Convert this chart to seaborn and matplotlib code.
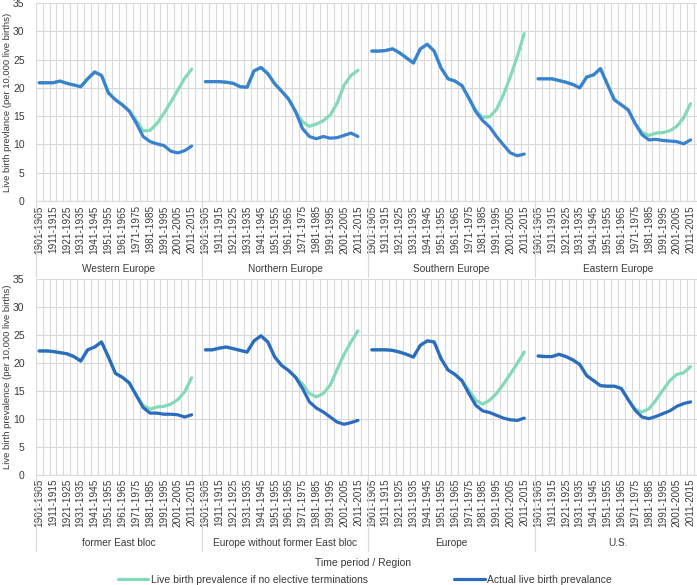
import numpy as np
import pandas as pd
import matplotlib
matplotlib.use("Agg")
import matplotlib.pyplot as plt
import matplotlib.transforms as mtransforms
from matplotlib.lines import Line2D
import seaborn as sns

# 5-year periods, same for every region
periods = ["1901-1905", "1906-1910", "1911-1915", "1916-1920", "1921-1925", "1926-1930",
           "1931-1935", "1936-1940", "1941-1945", "1946-1950", "1951-1955", "1956-1960",
           "1961-1965", "1966-1970", "1971-1975", "1976-1980", "1981-1985", "1986-1990",
           "1991-1995", "1996-2000", "2001-2005", "2006-2010", "2011-2015"]

top_regions = ["Western Europe", "Northern Europe", "Southern Europe", "Eastern Europe"]
bottom_regions = ["former East bloc", "Europe without former East bloc", "Europe", "U.S."]

# actual live birth prevalence (per 10,000 live births)
western_actual = [20.9, 20.9, 20.9, 21.2, 20.8, 20.5, 20.2, 21.6, 22.8, 22.2, 19.1, 17.9,
                  17.0, 15.9, 13.8, 11.4, 10.5, 10.1, 9.8, 8.8, 8.5, 8.9, 9.7]
northern_actual = [21.1, 21.1, 21.1, 21.0, 20.8, 20.2, 20.1, 23.0, 23.6, 22.5, 20.7, 19.4,
                   18.0, 15.8, 12.8, 11.4, 11.0, 11.4, 11.1, 11.2, 11.6, 12.0, 11.4]
southern_actual = [26.5, 26.5, 26.6, 26.9, 26.2, 25.3, 24.4, 26.9, 27.7, 26.5, 23.5, 21.6,
                   21.2, 20.4, 18.2, 15.8, 14.2, 13.1, 11.4, 9.9, 8.5, 8.0, 8.3]
eastern_actual = [21.6, 21.6, 21.6, 21.3, 21.0, 20.6, 20.0, 21.9, 22.3, 23.4, 20.6, 17.9,
                  17.0, 16.1, 13.7, 11.7, 10.8, 10.9, 10.7, 10.6, 10.5, 10.1, 10.8]
eastbloc_actual = [22.1, 22.1, 22.0, 21.8, 21.6, 21.1, 20.3, 22.3, 22.8, 23.7, 21.0, 18.1,
                   17.4, 16.4, 14.2, 12.0, 11.0, 11.0, 10.8, 10.8, 10.7, 10.3, 10.7]
noneast_actual = [22.3, 22.3, 22.6, 22.8, 22.5, 22.2, 21.9, 23.9, 24.8, 23.7, 21.0, 19.5,
                  18.6, 17.4, 15.4, 13.0, 11.9, 11.2, 10.3, 9.4, 9.0, 9.3, 9.7]
europe_actual = [22.3, 22.3, 22.3, 22.2, 21.9, 21.5, 21.0, 23.1, 23.9, 23.7, 20.7, 18.7,
                 17.9, 16.8, 14.5, 12.4, 11.4, 11.1, 10.6, 10.1, 9.8, 9.7, 10.1]
us_actual = [21.2, 21.1, 21.1, 21.5, 21.1, 20.5, 19.7, 17.7, 16.8, 15.9, 15.8, 15.8,
             15.4, 13.4, 11.5, 10.3, 10.0, 10.4, 10.9, 11.4, 12.2, 12.7, 13.0]

# live birth prevalence if there had been no elective terminations
western_noterm = [20.9, 20.9, 20.9, 21.2, 20.8, 20.5, 20.2, 21.6, 22.8, 22.2, 19.1, 17.9,
                  17.0, 15.9, 14.3, 12.4, 12.5, 13.7, 15.5, 17.5, 19.6, 21.7, 23.3]
northern_noterm = [21.1, 21.1, 21.1, 21.0, 20.8, 20.2, 20.1, 23.0, 23.6, 22.5, 20.7, 19.4,
                   18.0, 15.8, 14.0, 13.2, 13.6, 14.2, 15.2, 17.3, 20.5, 22.2, 23.1]
southern_noterm = [26.5, 26.5, 26.6, 26.9, 26.2, 25.3, 24.4, 26.9, 27.7, 26.5, 23.5, 21.6,
                   21.2, 20.4, 18.2, 16.0, 14.8, 14.9, 16.2, 18.8, 22.0, 25.6, 29.6]
eastern_noterm = [21.6, 21.6, 21.6, 21.3, 21.0, 20.6, 20.0, 21.9, 22.3, 23.4, 20.6, 17.9,
                  17.0, 16.1, 13.7, 12.1, 11.6, 12.0, 12.1, 12.4, 13.2, 14.7, 17.2]
eastbloc_noterm = [22.1, 22.1, 22.0, 21.8, 21.6, 21.1, 20.3, 22.3, 22.8, 23.7, 21.0, 18.1,
                   17.4, 16.4, 14.2, 12.4, 11.7, 12.1, 12.2, 12.6, 13.4, 14.8, 17.3]
noneast_noterm = [22.3, 22.3, 22.6, 22.8, 22.5, 22.2, 21.9, 23.9, 24.8, 23.7, 21.0, 19.5,
                  18.6, 17.4, 16.2, 14.5, 13.9, 14.5, 16.0, 18.8, 21.5, 23.7, 25.7]
europe_noterm = [22.3, 22.3, 22.3, 22.2, 21.9, 21.5, 21.0, 23.1, 23.9, 23.7, 20.7, 18.7,
                 17.9, 16.8, 15.1, 13.3, 12.6, 13.3, 14.5, 16.2, 18.0, 19.9, 21.9]
us_noterm = [21.2, 21.1, 21.1, 21.5, 21.1, 20.5, 19.7, 17.7, 16.8, 15.9, 15.8, 15.8,
             15.4, 13.4, 11.7, 11.2, 11.8, 13.3, 15.1, 16.8, 17.9, 18.2, 19.3]

actual = {"Western Europe": western_actual, "Northern Europe": northern_actual,
          "Southern Europe": southern_actual, "Eastern Europe": eastern_actual,
          "former East bloc": eastbloc_actual, "Europe without former East bloc": noneast_actual,
          "Europe": europe_actual, "U.S.": us_actual}
noterm = {"Western Europe": western_noterm, "Northern Europe": northern_noterm,
          "Southern Europe": southern_noterm, "Eastern Europe": eastern_noterm,
          "former East bloc": eastbloc_noterm, "Europe without former East bloc": noneast_noterm,
          "Europe": europe_noterm, "U.S.": us_noterm}

NOTERM = "Live birth prevalence if no elective terminations"
ACTUAL = "Actual live birth prevalance"

# each region takes 24 category slots (23 periods + one empty)
SLOTS = 24
rows = []
for regions in (top_regions, bottom_regions):
    for r, name in enumerate(regions):
        for i, p in enumerate(periods):
            rows.append({"region": name, "x": r * SLOTS + i, "series": NOTERM, "value": noterm[name][i]})
            rows.append({"region": name, "x": r * SLOTS + i, "series": ACTUAL, "value": actual[name][i]})
df = pd.DataFrame(rows)

sns.set_style("white")
plt.rcParams['font.family'] = ['Liberation Sans', 'DejaVu Sans']
plt.rcParams['lines.solid_joinstyle'] = 'round'
plt.rcParams['lines.solid_capstyle'] = 'round'

text_c = '#3a3a3a'
grid_c = '#d9d9d9'
green = '#84d9b6'
blue_top = '#3a82cf'
blue_bot = '#2b6cbf'

W, H = 697, 585
fig = plt.figure(figsize=(W / 100, H / 100), dpi=100, facecolor='white')
slot = 6.93
left = 35.7
ax_w = 4 * SLOTS * slot

panels = [
    (top_regions, 201, 198, blue_top, "Live birth prevlance (per 10,000 live births)"),
    (bottom_regions, 474.7, 196, blue_bot, "Live birth prevalence (per 10,000 live births)"),
]

for regions, base, ax_h, blue, ylab in panels:
    ax = fig.add_axes([left / W, (H - base) / H, ax_w / W, ax_h / H])
    sub = df[df["region"].isin(regions)]
    sns.lineplot(data=sub, x="x", y="value", hue="series", hue_order=[NOTERM, ACTUAL],
                 palette={NOTERM: green, ACTUAL: blue}, units="region", estimator=None,
                 sort=False, legend=False, lw=2.3, ax=ax)

    ax.set_xlim(-0.5, 4 * SLOTS - 0.5)
    ax.set_ylim(0, 35)
    ax.set_yticks(range(0, 36, 5))
    major = [r * SLOTS + i for r in range(4) for i in range(0, len(periods), 2)]
    ax.set_xticks(major)
    ax.set_xticklabels([periods[i] for r in range(4) for i in range(0, len(periods), 2)])
    ax.set_xticks(np.arange(-0.5, 4 * SLOTS, 1), minor=True)
    ax.grid(False)
    ax.grid(which='minor', axis='x', color=grid_c, lw=0.8)
    ax.grid(which='major', axis='y', color=grid_c, lw=0.8)
    ax.set_axisbelow(True)
    ax.tick_params(which='both', length=0)
    ax.tick_params(axis='x', labelrotation=90, labelsize=7.2, pad=3, colors=text_c)
    ax.tick_params(axis='y', labelsize=7.5, pad=8, colors=text_c)
    for s in ['top', 'right', 'left']:
        ax.spines[s].set_visible(False)
    ax.spines['bottom'].set_color(grid_c)
    ax.spines['bottom'].set_linewidth(0.8)
    ax.set_xlabel("")
    ax.set_ylabel(ylab, fontsize=6.8, color=text_c)
    ax.yaxis.set_label_coords(-24 / ax_w, 0.5)

    trans = mtransforms.blended_transform_factory(ax.transData, ax.transAxes)
    for r, name in enumerate(regions):
        ax.text(r * SLOTS + 11.5, -68 / ax_h, name, transform=trans, ha='center',
                va='center', fontsize=7.3, color=text_c)
    for b in range(5):
        ax.plot([b * SLOTS - 0.5] * 2, [0, -76 / ax_h], transform=trans, color=grid_c,
                lw=0.8, clip_on=False)

fig.text(363 / W, 1 - 563 / H, "Time period / Region", ha='center', va='center',
         fontsize=7.5, color=text_c)

handles = [Line2D([], [], color=green, lw=2.3), Line2D([], [], color=blue_bot, lw=2.3)]
fig.legend(handles, [NOTERM, ACTUAL], loc='center', bbox_to_anchor=(365 / W, 1 - 580 / H),
           ncol=2, frameon=False, fontsize=7.5, handlelength=2.9, handletextpad=0.25,
           columnspacing=8.3, labelcolor=text_c, borderaxespad=0, borderpad=0)

fig.savefig("out.png", dpi=100, facecolor='white')
